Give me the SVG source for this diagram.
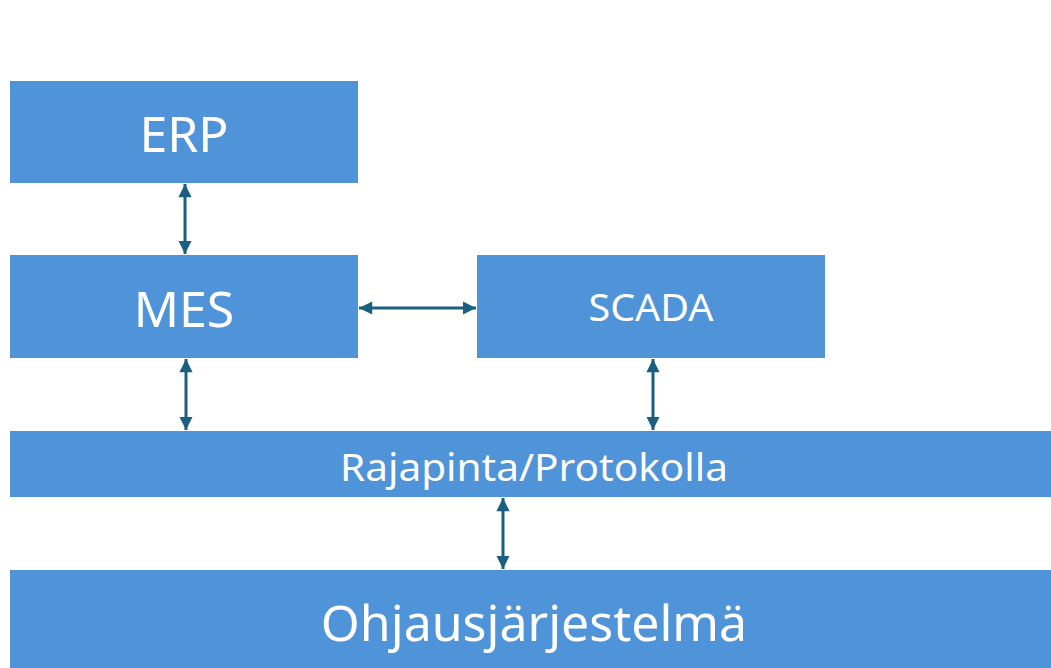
<svg xmlns="http://www.w3.org/2000/svg" width="1051" height="668" viewBox="0 0 1051 668">
  <style>
    .box { fill: #4F93D8; }
    .lbl { fill: #FFFFFF; font-family: "Noto Sans", "Open Sans", "Liberation Sans", sans-serif; text-anchor: middle; }
    .link { stroke: #1A5F7F; stroke-width: 3; fill: none; marker-start: url(#head); marker-end: url(#head); }
  </style>
  <defs>
    <marker id="head" viewBox="0 0 10 10" refX="10" refY="5" markerWidth="4.6" markerHeight="4.4" orient="auto-start-reverse" markerUnits="strokeWidth">
      <path d="M0,0 L10,5 L0,10 z" fill="#1A5F7F"/>
    </marker>
  </defs>
  <rect width="1051" height="668" fill="#FFFFFF"/>

  <g id="erp">
    <rect class="box" x="10" y="81" width="348" height="102"/>
    <text class="lbl" x="184" y="152" font-size="50">ERP</text>
  </g>
  <g id="mes">
    <rect class="box" x="10" y="255" width="348" height="103"/>
    <text class="lbl" x="184" y="327" font-size="50">MES</text>
  </g>
  <g id="scada">
    <rect class="box" x="477" y="255" width="348" height="103"/>
    <text class="lbl" x="651" y="321" font-size="38" textLength="125" lengthAdjust="spacingAndGlyphs">SCADA</text>
  </g>
  <g id="rajapinta">
    <rect class="box" x="10" y="431" width="1041" height="66"/>
    <text class="lbl" x="534" y="481" font-size="39" textLength="388" lengthAdjust="spacingAndGlyphs">Rajapinta/Protokolla</text>
  </g>
  <g id="ohjausjarjestelma">
    <rect class="box" x="10" y="570" width="1041" height="98"/>
    <text class="lbl" x="534" y="641" font-size="50">Ohjausjärjestelmä</text>
  </g>

  <g id="connectors">
    <line class="link" x1="185" y1="184" x2="185" y2="254"/>
    <line class="link" x1="359" y1="308" x2="476" y2="308"/>
    <line class="link" x1="186" y1="359" x2="186" y2="430"/>
    <line class="link" x1="653" y1="359" x2="653" y2="430"/>
    <line class="link" x1="503" y1="498" x2="503" y2="569"/>
  </g>
</svg>
